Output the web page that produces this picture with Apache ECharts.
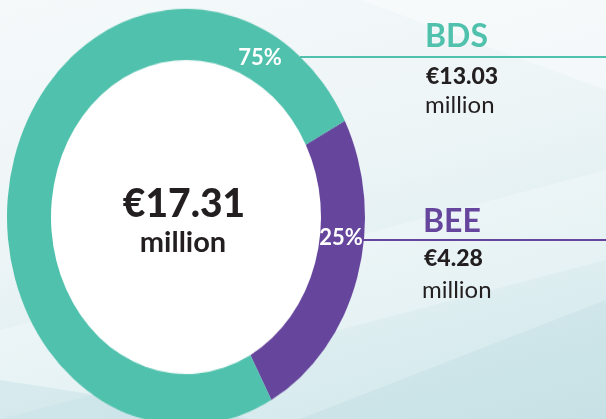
<!DOCTYPE html>
<html>
<head>
<meta charset="utf-8">
<script src="https://cdn.jsdelivr.net/npm/echarts@6/dist/echarts.min.js"></script>
<style>
  html, body { margin: 0; padding: 0; }
  #wrap {
    position: relative; width: 606px; height: 419px; overflow: hidden;
    background: linear-gradient(165deg, #f5f9fa 0%, #eef5f7 40%, #dcedf0 75%, #cfe6ea 100%);
  }
  #bg, #pie, #txt { position: absolute; left: 0; top: 0; width: 606px; height: 419px; }
  /* the donut in the reference is taller than it is wide */
  #pie { transform: scaleY(1.163); transform-origin: 186px 217px; }
</style>
</head>
<body>
<div id="wrap">
  <div id="bg"></div>
  <div id="pie"></div>
  <div id="txt"></div>
</div>
<script>
// data
const names = ['BEE', 'BDS']
const values = [4.28, 13.03]
const colors = ['#66459c', '#4fc1ac']
const unit = 'million'

const total = values.reduce((a, b) => a + b, 0)
const pct = values.map(v => Math.round(v / total * 100) + '%')

// faint background facets
const bg = echarts.init(document.getElementById('bg'))
bg.setOption({
  animation: false,
  graphic: [
    { type: 'polygon', shape: { points: [[0, 330], [606, 170], [606, 260], [0, 419]] }, style: { fill: 'rgba(255,255,255,0.25)' } },
    { type: 'polygon', shape: { points: [[300, 419], [606, 300], [606, 419]] }, style: { fill: 'rgba(160,205,212,0.18)' } },
    { type: 'polygon', shape: { points: [[360, 0], [606, 0], [606, 90]] }, style: { fill: 'rgba(255,255,255,0.35)' } },
    { type: 'polygon', shape: { points: [[0, 380], [250, 419], [0, 419]] }, style: { fill: 'rgba(150,200,210,0.2)' } }
  ]
})

const pie = echarts.init(document.getElementById('pie'))
pie.setOption({
  animation: false,
  graphic: [
    { type: 'circle', shape: { cx: 186, cy: 217, r: 136 }, style: { fill: '#ffffff' }, z: 0 }
  ],
  series: [
    {
      type: 'pie',
      center: [186, 217],
      radius: [135, 179],
      startAngle: 27.5,
      clockwise: true,
      silent: true,
      label: { show: false },
      labelLine: { show: false },
      itemStyle: { borderWidth: 0 },
      data: names.map((n, i) => ({ name: n, value: values[i], itemStyle: { color: colors[i] } }))
    }
  ]
})

const txt = echarts.init(document.getElementById('txt'))
const font = 'Lato, "Open Sans", sans-serif'
const dark = '#231f20'
txt.setOption({
  animation: false,
  graphic: [
    // centre total
    { type: 'text', style: { x: 184, y: 204, text: '€' + total.toFixed(2), font: '900 39px ' + font, fill: dark, align: 'center', verticalAlign: 'middle' } },
    { type: 'text', style: { x: 183, y: 243, text: unit, font: 'bold 29px ' + font, fill: dark, align: 'center', verticalAlign: 'middle' } },
    // percent labels on ring
    { type: 'text', style: { x: 260, y: 58, text: pct[1], font: 'bold 22px ' + font, fill: '#ffffff', align: 'center', verticalAlign: 'middle' } },
    { type: 'text', style: { x: 341, y: 238, text: pct[0], font: 'bold 22px ' + font, fill: '#ffffff', align: 'center', verticalAlign: 'middle' } },
    // leader lines
    { type: 'line', shape: { x1: 300, y1: 57, x2: 606, y2: 57 }, style: { stroke: colors[1], lineWidth: 2 } },
    { type: 'line', shape: { x1: 362, y1: 240, x2: 606, y2: 240 }, style: { stroke: colors[0], lineWidth: 2 } },
    // BDS block
    { type: 'text', style: { x: 425, y: 37, text: names[1], font: 'bold 32px ' + font, fill: colors[1], verticalAlign: 'middle' } },
    { type: 'text', style: { x: 426, y: 77, text: '€' + values[1].toFixed(2), font: '900 23px ' + font, fill: dark, verticalAlign: 'middle' } },
    { type: 'text', style: { x: 425, y: 105, text: unit, font: '24px ' + font, fill: dark, verticalAlign: 'middle' } },
    // BEE block
    { type: 'text', style: { x: 423, y: 222, text: names[0], font: 'bold 32px ' + font, fill: colors[0], verticalAlign: 'middle' } },
    { type: 'text', style: { x: 424, y: 259, text: '€' + values[0].toFixed(2), font: '900 23px ' + font, fill: dark, verticalAlign: 'middle' } },
    { type: 'text', style: { x: 422, y: 290, text: unit, font: '24px ' + font, fill: dark, verticalAlign: 'middle' } }
  ]
})
</script>
</body>
</html>
